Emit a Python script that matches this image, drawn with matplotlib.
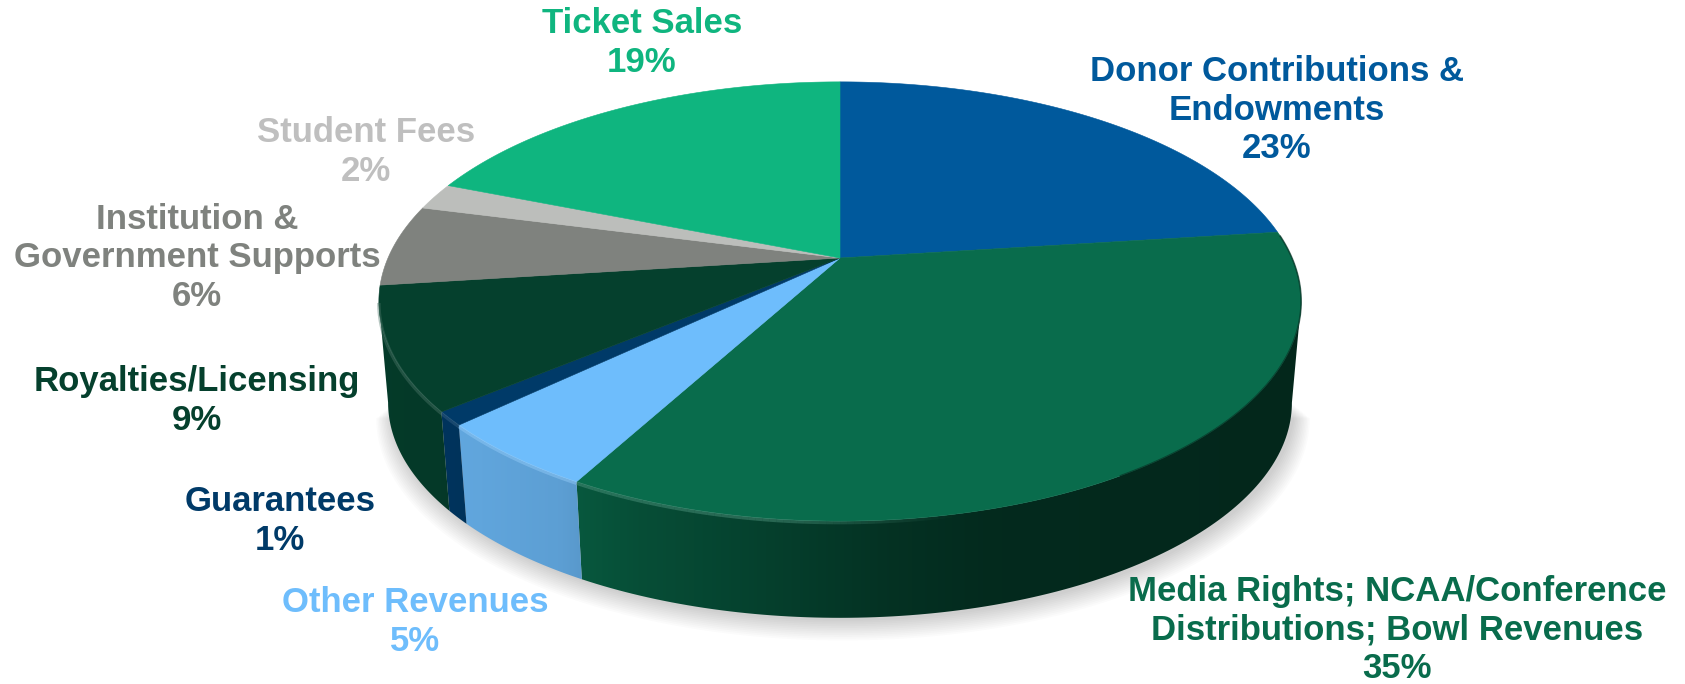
import numpy as np
from matplotlib import pyplot as plt
from matplotlib.patches import Polygon
from matplotlib.collections import LineCollection

# valores do grafico, sentido horario a partir do topo
categorias = ["Donor Contributions &\nEndowments", "Media Rights; NCAA/Conference\nDistributions; Bowl Revenues",
              "Other Revenues", "Guarantees", "Royalties/Licensing",
              "Institution &\nGovernment Supports", "Student Fees", "Ticket Sales"]
valores = [23, 35, 5, 1, 9, 6, 2, 19]
cores = ["#00599c", "#096c4c", "#6ebdfc", "#003a68", "#05402d", "#7f827e", "#bcbebb", "#0fb57f"]
cores_texto = ["#00599c", "#096c4c", "#6ebdfc", "#003a68", "#05402d", "#7f827e", "#bfbfbf", "#0fb57f"]
pos_texto = [(1277, 110), (1397, 630), (415, 622), (280, 521), (197, 401), (197, 258), (366, 152), (642, 43)]

# geometria em pixels da imagem
cx, cy = 840, 258
sx, sy = 452, 211
k = 0.198
prof = 102
esc = 0.98

# sombra do lado do pie em funcao do x
sombra_x = [-470, -280, -200, -100, 50, 150, 470]
sombra_f = [0.92, 0.84, 0.72, 0.62, 0.46, 0.39, 0.36]


def topo(theta):
    X = np.sin(theta)
    Y = np.cos(theta)
    w = 1 + k * Y
    return sx * X / w, sy * Y / w


def base(theta):
    x, y = topo(theta)
    return esc * x, esc * y - prof


def px(x, y):
    return np.column_stack([cx + x, cy - y])


fig = plt.figure(figsize=(16.85, 6.84), dpi=100)
ax = fig.add_axes([0, 0, 1, 1])
ax.axis("off")

bordas = np.cumsum([0] + valores) / sum(valores) * 2 * np.pi

# onde a borda do elipse e mais larga, a parede so aparece entre esses angulos
lim_dir = np.pi / 2 + np.arcsin(k)
lim_esq = 2 * np.pi - lim_dir

# sombra suave no chao
t = np.linspace(lim_dir, lim_esq, 200)
for i in range(12):
    bx, by = base(t)
    fator = 1.0 + i * 0.0030
    pts = px(bx * fator + 3, (by + 97) * fator - 97 - 3 - i * 1.0)
    ax.add_patch(Polygon(pts, closed=True, fc="#000000", ec="none", alpha=0.016, zorder=1))

# paredes com gradiente
for i in range(len(valores)):
    a0 = max(bordas[i], lim_dir)
    a1 = min(bordas[i + 1], lim_esq)
    if a1 <= a0:
        continue
    t = np.linspace(a0, a1, 120)
    xt, yt = topo(t)
    xb, yb = base(t)
    pts = np.vstack([px(xt, yt), px(xb, yb)[::-1]])
    colunas = np.linspace(-480, 480, 480)
    f = np.interp(colunas, sombra_x, sombra_f)
    rgb = np.array(plt.matplotlib.colors.to_rgb(cores[i]))
    img = (f[:, None] * rgb)[None, :, :]
    im = ax.imshow(img, extent=[cx - 480, cx + 480, 700, -20], aspect="auto", zorder=2, interpolation="bilinear")
    contorno = Polygon(pts, closed=True, transform=ax.transData, fc="none", ec="none")
    ax.add_patch(contorno)
    im.set_clip_path(contorno)

# tampa
for i in range(len(valores)):
    t = np.linspace(bordas[i], bordas[i + 1], 150)
    xt, yt = topo(t)
    pts = np.vstack([[[cx, cy]], px(xt, yt)])
    ax.add_patch(Polygon(pts, closed=True, fc=cores[i], ec=cores[i], lw=0.4, zorder=3))

# brilho da borda na frente, some para a direita
for i in range(len(valores)):
    a0 = max(bordas[i], lim_dir)
    a1 = min(bordas[i + 1], lim_esq)
    if a1 <= a0:
        continue
    t = np.linspace(a0, a1, 150)
    xt, yt = topo(t)
    p = px(xt, yt)
    segs = np.stack([p[:-1], p[1:]], axis=1)
    rgb = np.array(plt.matplotlib.colors.to_rgb(cores[i]))
    forca = np.interp(xt[:-1], [-460, -60, 120, 300], [0.45, 0.45, 0.0, 0.0])
    rgba = np.zeros((len(segs), 4))
    rgba[:, :3] = rgb + (1 - rgb) * 0.3
    rgba[:, 3] = forca
    ax.add_collection(LineCollection(segs + [0, 1.5], colors=rgba, linewidths=2.5, zorder=4))

# borda escura na direita
t = np.linspace(bordas[1] + 0.02, 2.6, 120)
xt, yt = topo(t)
p = px(xt, yt)
ax.plot(p[:, 0], p[:, 1], color="#02281c", lw=1.2, alpha=0.6, zorder=4)

# rotulos
for i in range(len(valores)):
    ax.text(pos_texto[i][0], pos_texto[i][1], categorias[i] + "\n" + str(valores[i]) + "%",
            ha="center", va="center", multialignment="center", color=cores_texto[i],
            family="Liberation Sans", fontweight="bold", fontsize=25, linespacing=1.22, zorder=5)

ax.set_xlim(0, 1685)
ax.set_ylim(684, 0)
fig.savefig("out.png", dpi=100, facecolor="white")
